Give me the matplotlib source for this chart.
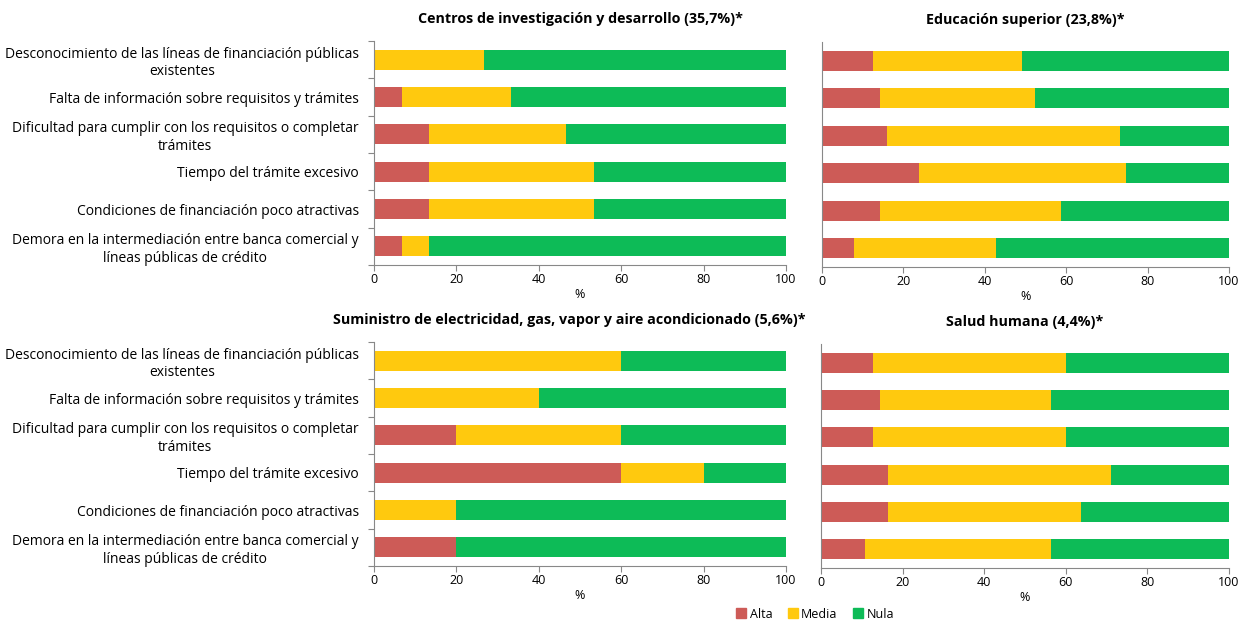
import numpy as np
import matplotlib.pyplot as plt
from matplotlib.patches import Patch

plt.rcParams['font.family'] = ['Open Sans', 'DejaVu Sans']

# Categorías (de arriba a abajo)
categorias = [
    'Desconocimiento de las líneas de financiación públicas\nexistentes',
    'Falta de información sobre requisitos y trámites',
    'Dificultad para cumplir con los requisitos o completar\ntrámites',
    'Tiempo del trámite excesivo',
    'Condiciones de financiación poco atractivas',
    'Demora en la intermediación entre banca comercial y\nlíneas públicas de crédito',
]

titulos = [
    'Centros de investigación y desarrollo (35,7%)*',
    'Educación superior (23,8%)*',
    'Suministro de electricidad, gas, vapor y aire acondicionado (5,6%)*',
    'Salud humana (4,4%)*',
]

# Alta / Media (Nula = resto hasta 100)
alta_cid = [0.0, 6.7, 13.3, 13.3, 13.3, 6.7]
media_cid = [26.7, 26.6, 33.4, 40.0, 40.0, 6.6]

alta_edu = [12.6, 14.3, 15.9, 23.9, 14.3, 7.9]
media_edu = [36.6, 38.1, 57.2, 50.8, 44.5, 34.9]

alta_ele = [0.0, 0.0, 20.0, 60.0, 0.0, 20.0]
media_ele = [60.0, 40.0, 40.0, 20.0, 20.0, 0.0]

alta_sal = [12.7, 14.5, 12.7, 16.4, 16.4, 10.8]
media_sal = [47.3, 41.9, 47.3, 54.6, 47.3, 45.6]

c_alta = '#CD5B57'
c_media = '#FFC90E'
c_nula = '#0DBB57'

fig = plt.figure(figsize=(12.41, 6.2), dpi=100)
# [left, bottom, width, height] en fracción de la figura
pos = [
    [374 / 1241, 1 - 265 / 620, 412 / 1241, 224 / 620],
    [822 / 1241, 1 - 267 / 620, 407 / 1241, 225 / 620],
    [374 / 1241, 1 - 566 / 620, 412 / 1241, 224 / 620],
    [821 / 1241, 1 - 568 / 620, 408 / 1241, 224 / 620],
]
title_x = [0.5, 0.5, 0.475, 0.5]
datos = [(alta_cid, media_cid), (alta_edu, media_edu),
         (alta_ele, media_ele), (alta_sal, media_sal)]

y = np.arange(len(categorias))
for i, (p, (alta, media)) in enumerate(zip(pos, datos)):
    ax = fig.add_axes(p)
    alta = np.array(alta)
    media = np.array(media)
    nula = 100 - alta - media
    h = 0.53
    ax.barh(y, alta, height=h, color=c_alta)
    ax.barh(y, media, left=alta, height=h, color=c_media)
    ax.barh(y, nula, left=alta + media, height=h, color=c_nula)
    ax.set_xlim(0, 100)
    ax.set_ylim(len(categorias) - 0.5, -0.5)
    ax.set_xticks([0, 20, 40, 60, 80, 100])
    ax.tick_params(axis='x', labelsize=9, length=4, color='#888888', pad=2)
    ax.set_xlabel('%', fontsize=9, labelpad=1)
    for s in ['top', 'right']:
        ax.spines[s].set_visible(False)
    for s in ['left', 'bottom']:
        ax.spines[s].set_color('#888888')
    ax.set_title(titulos[i], fontsize=10.3, fontweight='bold', pad=13, x=title_x[i])
    if i % 2 == 0:
        ax.set_yticks(np.arange(-0.5, len(categorias), 1.0))
        ax.set_yticklabels([])
        ax.set_yticks(y, minor=True)
        ax.set_yticklabels(categorias, minor=True, fontsize=10)
        ax.tick_params(axis='y', which='major', length=4, color='#888888')
        ax.tick_params(axis='y', which='minor', length=0, pad=11)
        for lbl in ax.get_yticklabels(minor=True):
            lbl.set_horizontalalignment('right')
            lbl.set_multialignment('center')
    else:
        ax.set_yticks([])

handles = [Patch(color=c_alta, label='Alta'),
           Patch(color=c_media, label='Media'),
           Patch(color=c_nula, label='Nula')]
fig.legend(handles=handles, loc='center', bbox_to_anchor=(815 / 1241, 1 - 614 / 620),
           ncol=3, frameon=False, fontsize=9, handlelength=0.8, handleheight=0.8,
           handletextpad=0.3, columnspacing=1.2)

fig.savefig('out.png', dpi=100)
